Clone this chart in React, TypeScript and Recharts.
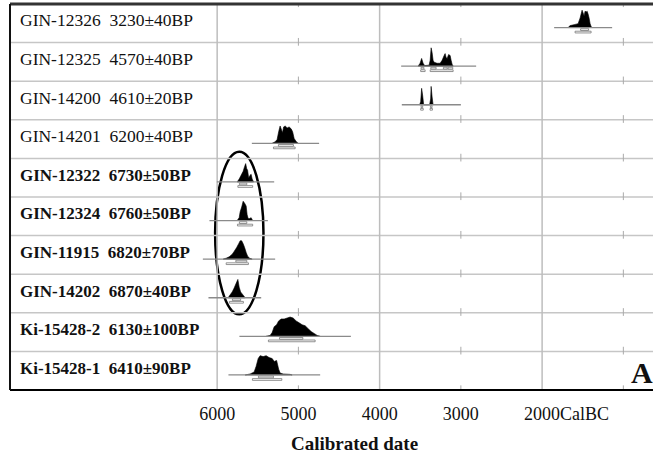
import React from "react";
import {
  ComposedChart,
  Area,
  Line,
  XAxis,
  YAxis,
  Label,
  ReferenceLine,
  ReferenceArea,
} from "recharts";

const SERIF = '"Liberation Serif", "Times New Roman", serif';

// samples, top row first
const LABELS = [
  "GIN-12326  3230±40BP",
  "GIN-12325  4570±40BP",
  "GIN-14200  4610±20BP",
  "GIN-14201  6200±40BP",
  "GIN-12322  6730±50BP",
  "GIN-12324  6760±50BP",
  "GIN-11915  6820±70BP",
  "GIN-14202  6870±40BP",
  "Ki-15428-2  6130±100BP",
  "Ki-15428-1  6410±90BP",
];
const BOLD = [false, false, false, false, true, true, true, true, true, true];

// calibrated probability, [year BC, relative prob]
const D_12326: [number, number][] = [
  [1680, 0], [1655, 0.1], [1606, 0.15], [1557, 0.2], [1532, 0.5], [1520, 0.7],
  [1508, 0.9], [1495, 0.75], [1483, 0.6], [1471, 0.85], [1458, 0.8], [1446, 0.85],
  [1434, 0.7], [1422, 0.5], [1409, 0.2], [1397, 0.05], [1385, 0],
];
const D_12325: [number, number][] = [
  [3526, 0], [3502, 0.15], [3483, 0.4], [3465, 0.15], [3446, 0.03], [3391, 0.05],
  [3378, 0.3], [3366, 0.95], [3354, 0.7], [3342, 0.3], [3329, 0.2], [3292, 0.15],
  [3255, 0.15], [3231, 0.3], [3206, 0.55], [3194, 0.65], [3182, 0.45], [3169, 0.4],
  [3151, 0.6], [3132, 0.55], [3120, 0.3], [3108, 0.1], [3095, 0],
];
const D_14200: [number, number][] = [
  [3508, 0], [3495, 0.15], [3483, 0.85], [3471, 0.5], [3458, 0], [3385, 0],
  [3372, 0.3], [3366, 0.95], [3354, 0.4], [3342, 0],
];
const D_14201: [number, number][] = [
  [5323, 0], [5286, 0.08], [5262, 0.2], [5243, 0.6], [5225, 0.9], [5212, 0.75],
  [5196, 0.55], [5182, 0.85], [5163, 0.9], [5138, 0.8], [5114, 0.85], [5089, 0.75],
  [5071, 0.6], [5052, 0.25], [5028, 0.1], [5003, 0],
];
const D_12322: [number, number][] = [
  [5754, 0], [5729, 0.15], [5705, 0.35], [5680, 0.55], [5662, 0.8], [5649, 0.95],
  [5637, 0.7], [5625, 0.6], [5612, 0.2], [5594, 0.35], [5582, 0.4], [5569, 0.15], [5551, 0],
];
const D_12324: [number, number][] = [
  [5754, 0], [5729, 0.15], [5717, 0.45], [5698, 0.7], [5680, 1], [5662, 0.9],
  [5643, 0.75], [5631, 0.3], [5618, 0.1], [5600, 0.1], [5582, 0.15], [5563, 0],
];
const D_11915: [number, number][] = [
  [5926, 0], [5889, 0.05], [5852, 0.12], [5815, 0.25], [5791, 0.4], [5760, 0.6],
  [5735, 0.8], [5717, 0.95], [5698, 0.95], [5680, 0.8], [5662, 0.6], [5643, 0.35],
  [5625, 0.15], [5600, 0.05], [5569, 0],
];
const D_14202: [number, number][] = [
  [5865, 0], [5840, 0.15], [5815, 0.3], [5791, 0.5], [5766, 0.75], [5745, 0.95],
  [5729, 0.55], [5711, 0.3], [5692, 0.2], [5674, 0.1], [5655, 0],
];
const D_KI2: [number, number][] = [
  [5397, 0], [5348, 0.05], [5323, 0.2], [5298, 0.5], [5268, 0.6], [5243, 0.8],
  [5212, 0.9], [5175, 0.9], [5138, 0.95], [5102, 1], [5065, 0.95], [5028, 0.8],
  [4991, 0.7], [4954, 0.6], [4917, 0.55], [4880, 0.4], [4843, 0.25], [4806, 0.15],
  [4769, 0.05], [4732, 0],
];
const D_KI1: [number, number][] = [
  [5655, 0], [5594, 0.05], [5545, 0.15], [5520, 0.45], [5495, 0.85], [5471, 1],
  [5434, 0.95], [5397, 1], [5360, 0.9], [5323, 0.85], [5298, 0.7], [5268, 0.75],
  [5243, 0.3], [5225, 0.1], [5188, 0.05], [5102, 0.03], [5077, 0],
];
const DISTS = [D_12326, D_12325, D_14200, D_14201, D_12322, D_12324, D_11915, D_14202, D_KI2, D_KI1];

// extent of the grey line under each distribution
const SPANS: [number, number][] = [
  [1852, 1138], [3735, 2812], [3727, 3000], [5573, 4745], [6004, 5298],
  [6095, 5376], [6176, 5286], [6107, 5458], [5726, 4354], [5861, 4732],
];

// 68.2% and 95.4% ranges
const SIGMA1: [number, number][][] = [
  [[1526, 1428]],
  [[3490, 3455], [3370, 3305], [3215, 3168], [3158, 3100]],
  [[3490, 3470], [3375, 3355]],
  [[5246, 5061]],
  [[5726, 5635]],
  [[5726, 5635]],
  [[5770, 5635]],
  [[5812, 5711]],
  [[5233, 4945]],
  [[5492, 5307]],
];
const SIGMA2: [number, number][][] = [
  [[1594, 1397]],
  [[3495, 3440], [3378, 3095]],
  [[3495, 3463], [3380, 3350]],
  [[5307, 5040]],
  [[5745, 5563]],
  [[5750, 5563]],
  [[5889, 5615]],
  [[5849, 5677]],
  [[5369, 4794]],
  [[5566, 5204]],
];

const X_TICKS = [6000, 5000, 4000, 3000, 2000];
const FULL_LINES = [6000, 4000, 2000];
const MINOR = [5000, 3000, 1000];
const ELLIPSE_X: [number, number] = [6025, 5430];
const ELLIPSE_Y: [number, number] = [1.96, 6.17];

const N = LABELS.length;
const PEAK = 0.5;
const base = (k: number) => N - 1 - k + 0.39;
const ROW_LINES = Array.from({ length: N + 1 }, (_, i) => i);
const ROW_CENTERS = LABELS.map((_, k) => N - k - 0.5);

function RowLabel(props: any) {
  const { y, payload } = props;
  const k = Math.round(N - 0.5 - payload.value);
  const bold = BOLD[k];
  return (
    <text
      x={20}
      y={y + 3}
      fill="#111"
      style={{
        whiteSpace: "pre",
        fontFamily: SERIF,
        fontSize: bold ? 17 : 17.5,
        fontWeight: bold ? 700 : 400,
      }}
    >
      {LABELS[k]}
    </text>
  );
}

function YearTick(props: any) {
  const { x, y, payload } = props;
  const v = payload.value;
  const style = { fontFamily: SERIF, fontSize: 18 };
  if (v === 2000) {
    return (
      <text x={x - 18} y={y + 30} textAnchor="start" fill="#111" style={style}>
        {"2000CalBC"}
      </text>
    );
  }
  return (
    <text x={x} y={y + 30} textAnchor="middle" fill="#111" style={style}>
      {v}
    </text>
  );
}

function AxisTitle(props: any) {
  const vb = props.viewBox;
  return (
    <text
      x={vb.x + vb.width / 2 + 23}
      y={vb.y + 60}
      textAnchor="middle"
      fill="#111"
      style={{ fontFamily: SERIF, fontSize: 19, fontWeight: 700 }}
    >
      Calibrated date
    </text>
  );
}

export default function App() {
  return (
    <div style={{ position: "absolute", left: 0, top: 0, width: 653, height: 455, background: "#fff" }}>
      <ComposedChart width={653} height={455} margin={{ top: 4, right: 0, bottom: 0, left: 0 }}>
        <XAxis
          type="number"
          dataKey="x"
          domain={[635, 8550]}
          reversed
          allowDataOverflow
          ticks={X_TICKS}
          interval={0}
          tick={YearTick}
          tickLine={false}
          tickSize={0}
          tickMargin={0}
          axisLine={{ stroke: "#000", strokeWidth: 2 }}
          height={65}
        >
          <Label content={AxisTitle} />
        </XAxis>
        <YAxis
          type="number"
          domain={[0, N]}
          allowDataOverflow
          ticks={ROW_CENTERS}
          interval={0}
          width={10}
          tick={RowLabel}
          tickLine={false}
          axisLine={{ stroke: "#111", strokeWidth: 2 }}
        />

        {ROW_LINES.slice(1, N).map((v) => (
          <ReferenceLine key={`h${v}`} y={v} stroke="#c6c6c6" strokeWidth={1.5} />
        ))}
        {FULL_LINES.map((v) => (
          <ReferenceLine key={`v${v}`} x={v} stroke="#bdbdbd" strokeWidth={1.5} />
        ))}
        {MINOR.flatMap((t) =>
          ROW_LINES.map((v) => (
            <ReferenceLine
              key={`m${t}-${v}`}
              segment={[
                { x: t, y: Math.max(0, v - 0.08) },
                { x: t, y: Math.min(N, v + 0.12) },
              ]}
              stroke="#aaa"
              strokeWidth={1}
              ifOverflow="visible"
            />
          ))
        )}
        <ReferenceLine y={N} stroke="#333" strokeWidth={3} />

        {SPANS.map(([a, b], k) => (
          <Line
            key={`s${k}`}
            data={[{ x: a, y: base(k) }, { x: b, y: base(k) }]}
            dataKey="y"
            stroke="#8a8a8a"
            strokeWidth={1.3}
            dot={false}
            activeDot={false}
            isAnimationActive={false}
          />
        ))}
        {DISTS.map((d, k) => (
          <Area
            key={`d${k}`}
            data={d.map(([yr, p]) => ({ x: yr, y: [base(k), base(k) + p * PEAK] }))}
            dataKey="y"
            type="linear"
            stroke="#000"
            strokeWidth={0.6}
            fill="#000"
            fillOpacity={1}
            dot={false}
            activeDot={false}
            isAnimationActive={false}
          />
        ))}
        {SIGMA1.flatMap((rs, k) =>
          rs.map(([a, b], j) => (
            <ReferenceArea
              key={`a${k}-${j}`}
              x1={a}
              x2={b}
              y1={base(k) - 0.075}
              y2={base(k) - 0.03}
              fill="#fff"
              fillOpacity={1}
              stroke="#777"
              strokeWidth={0.8}
              ifOverflow="visible"
            />
          ))
        )}
        {SIGMA2.flatMap((rs, k) =>
          rs.map(([a, b], j) => (
            <ReferenceArea
              key={`b${k}-${j}`}
              x1={a}
              x2={b}
              y1={base(k) - 0.14}
              y2={base(k) - 0.095}
              fill="#fff"
              fillOpacity={1}
              stroke="#777"
              strokeWidth={0.8}
              ifOverflow="visible"
            />
          ))
        )}
        <ReferenceArea
          x1={ELLIPSE_X[0]}
          x2={ELLIPSE_X[1]}
          y1={ELLIPSE_Y[0]}
          y2={ELLIPSE_Y[1]}
          ifOverflow="visible"
          shape={(p: any) => (
            <ellipse
              cx={p.x + p.width / 2}
              cy={p.y + p.height / 2}
              rx={Math.abs(p.width) / 2}
              ry={Math.abs(p.height) / 2}
              fill="none"
              stroke="#000"
              strokeWidth={2.5}
            />
          )}
        />
      </ComposedChart>
      <div
        style={{
          position: "absolute",
          left: 631,
          top: 358,
          fontFamily: SERIF,
          fontWeight: 700,
          fontSize: 30,
          lineHeight: 1,
          color: "#111",
        }}
      >
        A
      </div>
    </div>
  );
}
